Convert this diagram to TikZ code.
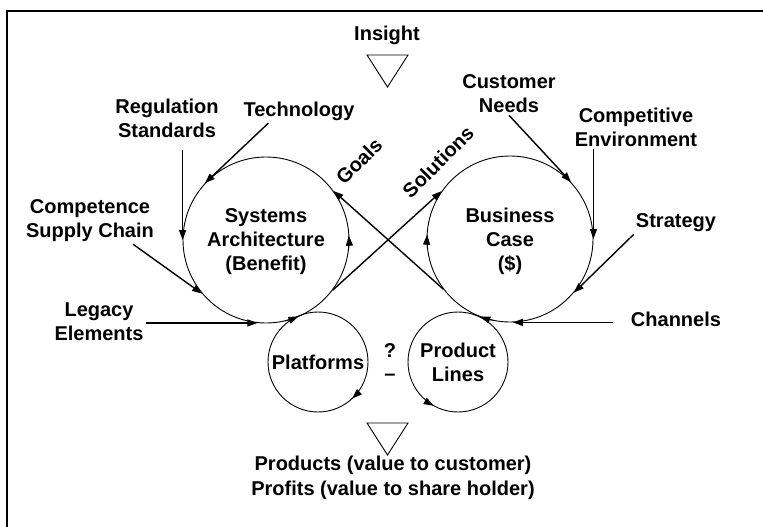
\documentclass[tikz,border=0pt]{standalone}
\usepackage{fontspec}
\setmainfont{Liberation Sans}
\usetikzlibrary{arrows.meta}

\begin{document}
\begin{tikzpicture}[x=1pt,y=1pt,
    every node/.style={font=\bfseries\fontsize{20}{24}\selectfont, inner sep=2pt, align=center},
    wheel/.style={draw, circle, line width=0.9pt, inner sep=0pt, text depth=0pt},
    feedarrow/.style={-{Triangle[length=10pt,width=7pt]}, line width=1.4pt},
    spinarrow/.style={-{Triangle[length=10pt,width=7pt]}, line width=0.9pt}]
  \useasboundingbox (0,0) rectangle (763,-527);
  \draw[line width=2pt] (7,-527) -- (7,-11) -- (763,-11);
  \node[wheel, minimum size=166pt] (sysarch) at (266,-240) {Systems\\Architecture\\(Benefit)};
  \node[wheel, minimum size=166pt] (buscase) at (510,-239) {Business\\Case\\(\$)};
  \node[wheel, minimum size=100pt] (platforms) at (318,-362) {Platforms};
  \node[wheel, minimum size=100pt] (prodlines) at (458,-362) {Product\\Lines};
  \node (insight) at (387,-35) {Insight};
  \node (regulation) at (167,-118) {Regulation\\Standards};
  \node (technology) at (299,-111.5) {Technology};
  \node (competence) at (90,-221) {Competence\\Supply Chain};
  \node (legacy) at (99,-322) {Legacy\\Elements};
  \node (customer) at (509,-94) {Customer\\Needs};
  \node (competitive) at (636,-127) {Competitive\\Environment};
  \node (strategy) at (676,-223) {Strategy};
  \node (channels) at (676,-319.5) {Channels};
  \node[rotate=45] (goals) at (359,-161) {Goals};
  \node[rotate=45] (solutions) at (438,-162) {Solutions};
  \node (question) at (390,-351) {?};
  \node (minus) at (390,-377) {\textendash};
  \node (outcome) at (393,-478) {Products (value to customer)\\[1pt]Profits (value to share holder)};
  \draw[line width=0.9pt] (367,-55) -- (408,-55) -- (387.5,-87) -- cycle;
  \draw[line width=0.9pt] (367,-423) -- (408,-423) -- (387.5,-455) -- cycle;
  \draw[feedarrow] (regulation.south -| sysarch.west) ++(0,-10) -- (sysarch.west);
  \draw[feedarrow] ([xshift=27pt]technology.south west) -- (sysarch.137);
  \draw[feedarrow] ([xshift=-23pt]competence.south east) -- (sysarch.220);
  \draw[feedarrow] (legacy.east |- sysarch.264) -- (sysarch.264);
  \draw[feedarrow] (customer.south) -- (buscase.43);
  \draw[feedarrow] (competitive.south -| buscase.east) -- (buscase.east);
  \draw[feedarrow] (strategy.south west) -- (buscase.-40);
  \draw[feedarrow] (channels.west |- buscase.272) ++(-16,0) -- (buscase.272);
  \draw[feedarrow] (buscase.217) -- (sysarch.36);
  \draw[feedarrow] (sysarch.-37) -- (buscase.145);
  % fleches sur les cercles
  \draw[spinarrow] ([shift={(-7:83pt)}]sysarch.center) arc[start angle=-7, end angle=3, radius=83pt];
  \draw[spinarrow] ([shift={(-77:83pt)}]sysarch.center) arc[start angle=-77, end angle=-67, radius=83pt];
  \draw[spinarrow] ([shift={(187:83pt)}]buscase.center) arc[start angle=187, end angle=177, radius=83pt];
  \draw[spinarrow] ([shift={(259:83pt)}]buscase.center) arc[start angle=259, end angle=249, radius=83pt];
  \draw[spinarrow] ([shift={(-36:50pt)}]platforms.center) arc[start angle=-36, end angle=-47, radius=50pt];
  \draw[spinarrow] ([shift={(231:50pt)}]prodlines.center) arc[start angle=231, end angle=241, radius=50pt];
\end{tikzpicture}
\end{document}
